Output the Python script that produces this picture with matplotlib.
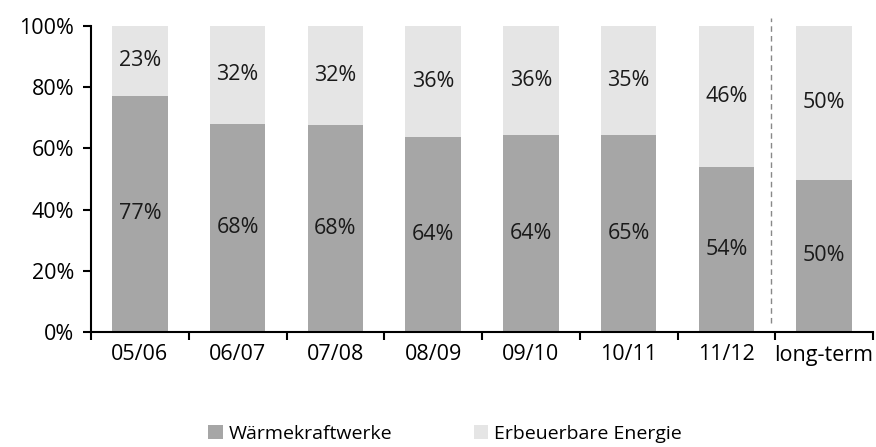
import numpy as np
import matplotlib.pyplot as plt
from matplotlib.patches import Patch

plt.rcParams['font.family'] = ['Open Sans', 'DejaVu Sans']

# data
categories = ['05/06', '06/07', '07/08', '08/09', '09/10', '10/11', '11/12', 'long-term']
waerme = [77.2, 68.0, 67.6, 63.6, 64.3, 64.5, 54.0, 49.8]
erneuerbar = [100 - v for v in waerme]
waerme_labels = ['77%', '68%', '68%', '64%', '64%', '65%', '54%', '50%']
erneuerbar_labels = ['23%', '32%', '32%', '36%', '36%', '35%', '46%', '50%']
series_names = ['Wärmekraftwerke', 'Erbeuerbare Energie']
colors = ['#a6a6a6', '#e5e5e5']

fs = 15.5
fig = plt.figure(figsize=(8.76, 4.47), dpi=100)
ax = fig.add_axes([91 / 876, 1 - 332 / 447, 782 / 876, 306 / 447])

x = np.arange(len(categories))
ax.bar(x, waerme, width=0.57, color=colors[0], zorder=2)
ax.bar(x, erneuerbar, width=0.57, bottom=waerme, color=colors[1], zorder=2)

for i in range(len(categories)):
    ax.text(x[i], waerme[i] / 2, waerme_labels[i],
            ha='center', va='center', fontsize=fs, color='#1a1a1a')
    ax.text(x[i], waerme[i] + erneuerbar[i] / 2, erneuerbar_labels[i],
            ha='center', va='center', fontsize=fs, color='#1a1a1a')

# separator between history and long-term
ax.plot([6.46, 6.46], [3, 102.5], ls=(0, (4, 3)), color='#888888', lw=1,
        clip_on=False, zorder=3)

ax.set_xlim(-0.5, len(categories) - 0.5)
ax.set_ylim(0, 100)
ax.set_yticks(np.arange(0, 101, 20))
ax.set_yticklabels(['%d%%' % v for v in range(0, 101, 20)], fontsize=fs)
ax.set_xticks(x)
ax.set_xticklabels(categories, fontsize=fs)
ax.tick_params(axis='x', length=0, pad=9)
ax.set_xticks(np.arange(-0.5, len(categories), 1), minor=True)
ax.tick_params(axis='x', which='minor', length=6, width=1.5, direction='out')
ax.tick_params(axis='y', length=6, width=1.5, direction='out', pad=6)

for s in ['top', 'right']:
    ax.spines[s].set_visible(False)
ax.spines['left'].set_linewidth(1.5)
ax.spines['bottom'].set_linewidth(1.5)

handles = [Patch(facecolor=colors[0]), Patch(facecolor=colors[1])]
fig.legend(handles, series_names, loc='center', bbox_to_anchor=(445 / 876, 1 - 434 / 447),
           ncol=2, frameon=False, fontsize=14, handlelength=0.75, handleheight=0.75,
           handletextpad=0.3, columnspacing=4.2)

fig.savefig('out.png', dpi=100)
